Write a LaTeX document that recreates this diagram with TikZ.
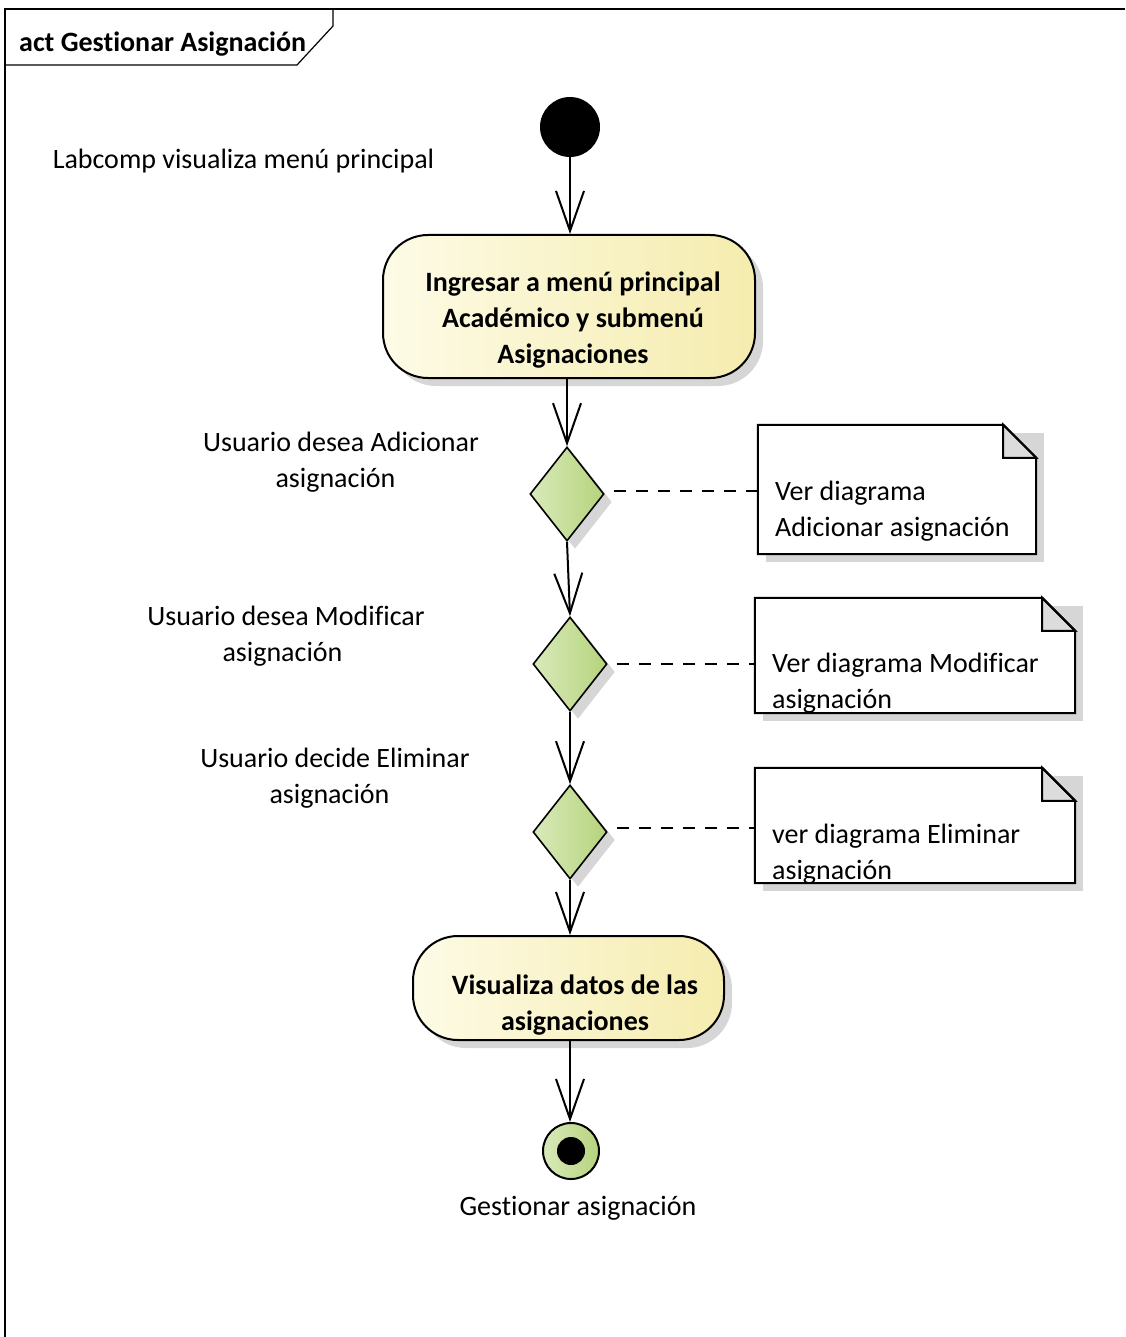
\documentclass[tikz,border=0pt]{standalone}
\usepackage{fontspec}
\setmainfont{Carlito}[Ligatures=NoCommon]
\usetikzlibrary{arrows.meta,shapes.geometric,shadows,calc}
\definecolor{actL}{HTML}{FDFBE6}
\definecolor{actR}{HTML}{F5ECAE}
\definecolor{decL}{HTML}{D9EABA}
\definecolor{decR}{HTML}{B5D37C}
\definecolor{shad}{HTML}{D6D6D6}
\definecolor{foldc}{HTML}{DCDCDC}
\begin{document}
\begin{tikzpicture}[x=1pt,y=-1pt,
  txt/.style={font=\fontsize{28}{36}\selectfont, align=center, inner sep=0pt},
  btxt/.style={font=\fontsize{28}{36}\selectfont\bfseries, align=center, inner sep=0pt},
  mysh/.style={drop shadow={shadow xshift=8pt, shadow yshift=-8pt, fill=shad, opacity=1}},
  action/.style={rectangle, rounded corners=45pt, draw=black, line width=2pt,
     left color=actL, right color=actR, mysh, inner sep=0pt},
  decision/.style={diamond, draw=black, line width=1.6pt, left color=decL, right color=decR,
     minimum width=74pt, minimum height=94pt, inner sep=0pt, aspect=0.787, mysh},
  flow/.style={line width=2pt, -{Straight Barb[length=40pt,width=28pt,line width=2pt]}},
  notelink/.style={line width=2pt, dash pattern=on 12pt off 10pt},
  notebox/.style={rectangle, draw=none, inner sep=0pt},
  noteline/.style={line width=2pt, draw=black},
]
\useasboundingbox (0,0) rectangle (1125,1337);
% frame
\draw[line width=1.2pt] (5,1337) -- (5,9) -- (1125,9);
\draw[line width=1.2pt] (5,65) -- (297,65) -- (333,26) -- (333,9);
\node[font=\fontsize{28}{30}\selectfont\bfseries, anchor=west, inner sep=0pt] (title) at (19,44) {act Gestionar Asignación};

% initial node
\node[circle, fill=black, minimum size=60pt, inner sep=0pt] (start) at (570,127) {};
\node[txt] (lstart) at (243.5,161) {Labcomp visualiza menú principal};

% action 1
\node[action, minimum width=372pt, minimum height=143pt] (a1) at (569,306.5) {};
\node[btxt] (a1t) at (573,320) {Ingresar a menú principal\\Académico y submenú\\Asignaciones};

% decisions
\node[decision] (d1) at (567,494) {};
\node[decision] (d2) at (570,664) {};
\node[decision] (d3) at (570,832) {};
\node[txt] (l1) at (341,462) {Usuario desea Adicionar\\asignación\rule{11pt}{0pt}};
\node[txt] (l2) at (286,636) {Usuario desea Modificar\\asignación\rule{7pt}{0pt}};
\node[txt] (l3) at (335,778) {Usuario decide Eliminar\\asignación\rule{11pt}{0pt}};

% action 2
\node[action, minimum width=311pt, minimum height=104pt] (a2) at (568.5,988) {};
\node[btxt] (a2t) at (575,1005) {Visualiza datos de las\\asignaciones};

% final node
\node[circle, draw=black, line width=2pt, left color=decL, right color=decR,
  minimum size=56pt, inner sep=0pt] (fin) at (571,1151) {};
\node[circle, fill=black, minimum size=28pt, inner sep=0pt] (fininner) at (fin.center) {};
\node[txt] (lfin) at (578,1208) {Gestionar asignación};

% notes
\node[notebox, minimum width=278pt, minimum height=129pt] (n1) at (897,489.5) {};
\node[notebox, minimum width=320pt, minimum height=115pt] (n2) at (915,655.5) {};
\node[notebox, minimum width=320pt, minimum height=115pt] (n3) at (915,825.5) {};
\foreach \n/\f in {n1/33, n2/33, n3/33} {
  \fill[shad] ($(\n.north west)+(8,8)$) -- ($(\n.north east)+(8,8)$) -- ($(\n.south east)+(8,8)$) -- ($(\n.south west)+(8,8)$) -- cycle;
  \fill[white] (\n.north west) -- ($(\n.north east)+(-\f,0)$) -- ($(\n.north east)+(0,\f)$) -- (\n.south east) -- (\n.south west) -- cycle;
  \filldraw[fill=foldc, noteline] ($(\n.north east)+(-\f,0)$) -- ($(\n.north east)+(-\f,\f)$) -- ($(\n.north east)+(0,\f)$) -- cycle;
  \draw[noteline, line join=miter] (\n.north west) -- ($(\n.north east)+(-\f,0)$) -- ($(\n.north east)+(0,\f)$) -- (\n.south east) -- (\n.south west) -- cycle;
}
\node[txt, align=left, anchor=west] (t1) at (775,511) {Ver diagrama\\Adicionar asignación};
\node[txt, align=left, anchor=west] (t2) at (772,683) {Ver diagrama Modificar\\asignación};
\node[txt, align=left, anchor=west] (t3) at (772,854) {ver diagrama Eliminar\\asignación};

% connectors
\coordinate (c1) at ([xshift=9pt,yshift=3pt]d1.east);
\coordinate (c2) at ([xshift=9pt]d2.east);
\coordinate (c3) at ([xshift=9pt,yshift=4pt]d3.east);
\draw[flow] (start) -- (a1.north -| start);
\draw[flow] (a1.south -| d1) -- (d1.north);
\draw[flow] (d1.south) -- (d2.north);
\draw[flow] (d2.south) -- (d3.north);
\draw[flow] (d3.south) -- (a2.north -| d3);
\draw[flow] (a2.south -| d3) -- (fin.north -| d3);
\draw[notelink] (c1) -- (c1 -| n1.west);
\draw[notelink] (c2) -- (c2 -| n2.west);
\draw[notelink] (c3) -- (c3 -| n3.west);
\end{tikzpicture}
\end{document}
